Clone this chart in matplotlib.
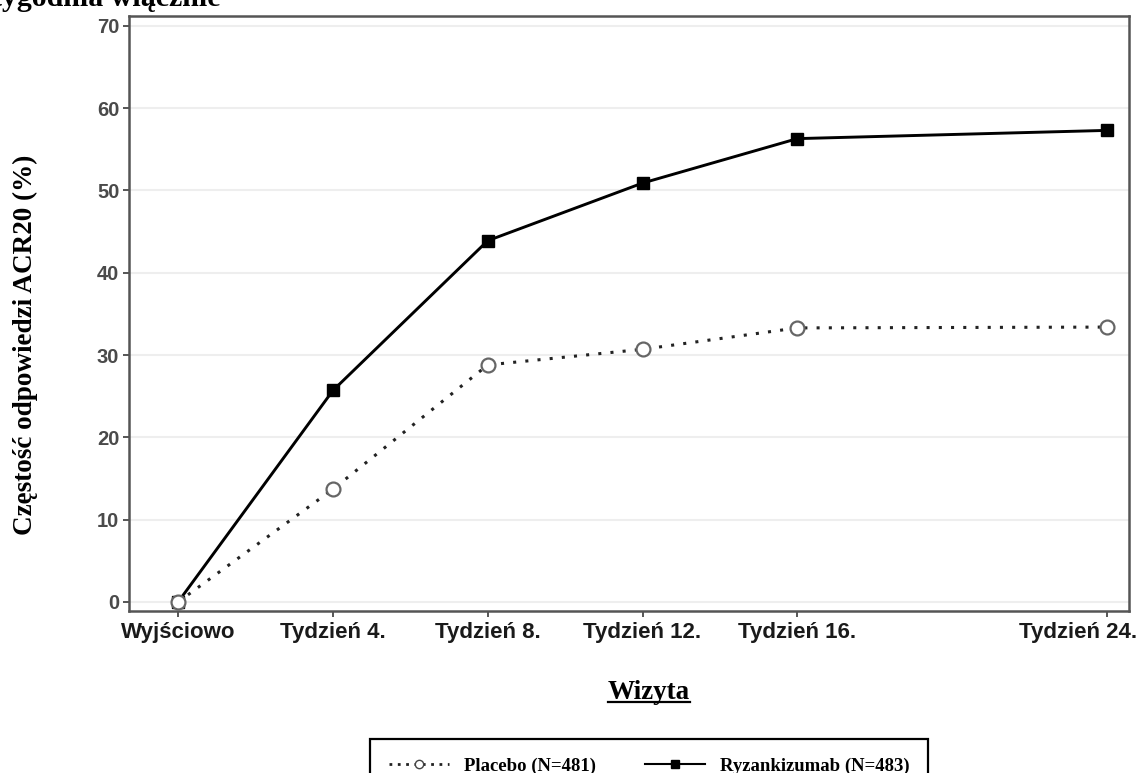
import matplotlib
matplotlib.use('Agg')
import matplotlib.pyplot as plt
from matplotlib.lines import Line2D
from matplotlib.transforms import ScaledTranslation

# dane
tygodnie = [0, 4, 8, 12, 16, 24]
etykiety = ['Wyjściowo', 'Tydzień 4.', 'Tydzień 8.', 'Tydzień 12.', 'Tydzień 16.', 'Tydzień 24.']
ryzankizumab = [0, 25.7, 43.9, 50.9, 56.3, 57.3]
placebo = [0, 13.7, 28.8, 30.7, 33.3, 33.4]
y_ticks = [0, 10, 20, 30, 40, 50, 60, 70]
nazwy = ['Placebo (N=481)', 'Ryzankizumab (N=483)']

W, H = 1139, 773
fig = plt.figure(figsize=(W / 100, H / 100), dpi=100)
ax = fig.add_axes([129 / W, 1 - 611 / H, 1000 / W, 595 / H])

ax.plot(tygodnie, ryzankizumab, color='black', lw=2.1, marker='s', ms=9,
        mfc='black', mec='black', zorder=3)
ax.plot(tygodnie, placebo, color='#222222', lw=2.2, ls=(0, (1, 3)), marker='o', ms=10,
        mfc='white', mec='#666666', mew=1.6, zorder=4)

ax.set_xlim(-1.27, 24.57)
ax.set_ylim(-1.1, 71.2)
ax.set_yticks(y_ticks)
ax.set_xticks(tygodnie)
ax.set_xticklabels(etykiety)
ax.grid(axis='y', color='#eeeeee', lw=1.5)
ax.set_axisbelow(True)

for s in ax.spines.values():
    s.set_color('#555555')
    s.set_linewidth(1.8)
ax.tick_params(direction='out', length=4, width=1.4, color='#555555')
ax.tick_params(axis='y', pad=3)
ax.tick_params(axis='x', pad=4)
for lab in ax.get_yticklabels():
    lab.set_fontfamily('Liberation Sans')
    lab.set_fontweight('bold')
    lab.set_fontsize(14.5)
    lab.set_color('#4a4a4a')
for lab in ax.get_xticklabels():
    lab.set_fontfamily('Liberation Sans')
    lab.set_fontweight('bold')
    lab.set_fontsize(16)
    lab.set_color('#1a1a1a')
# ostatnia etykieta przesunięta w lewo, żeby zmieściła się w obrazku
ost = ax.get_xticklabels()[-1]
ost.set_transform(ost.get_transform() + ScaledTranslation(-0.29, 0, fig.dpi_scale_trans))

fig.text(25 / W, 1 - 344.5 / H, 'Częstość odpowiedzi ACR20 (%)', rotation=90,
         ha='center', va='center', family='Liberation Serif', weight='bold', fontsize=19.5)

# ucięty fragment tytułu u góry
fig.text(-8 / W, 1 - 6 / H, 'tygodnia włącznie', ha='left', va='baseline',
         family='Liberation Serif', weight='bold', fontsize=21.5)

wiz = fig.text(649 / W, 1 - 699 / H, 'Wizyta', ha='center', va='baseline',
               family='Liberation Serif', weight='bold', fontsize=19.5)
fig.canvas.draw()
bb = wiz.get_window_extent()
fig.add_artist(Line2D([bb.x0 / W, bb.x1 / W], [1 - 702 / H, 1 - 702 / H],
                      transform=fig.transFigure, color='black', lw=1.6))

h_pl = Line2D([], [], color='#222222', lw=2.0, ls=(0, (1, 2)), marker='o', ms=6,
              mfc='white', mec='#444444', mew=1.0)
h_ryz = Line2D([], [], color='black', lw=1.5, marker='s', ms=6, mfc='black', mec='black')
leg = fig.legend([h_pl, h_ryz], nazwy, loc='upper center',
                 bbox_to_anchor=(649 / W, 1 - 739 / H), ncol=2, frameon=True,
                 fancybox=False, edgecolor='black', framealpha=1,
                 prop={'family': 'Liberation Serif', 'weight': 'bold', 'size': 13.5},
                 handlelength=3.2, handletextpad=0.8, columnspacing=2.6,
                 borderpad=1.0, borderaxespad=0, numpoints=1)
leg.get_frame().set_linewidth(1.6)

fig.savefig('out.png', dpi=100)
